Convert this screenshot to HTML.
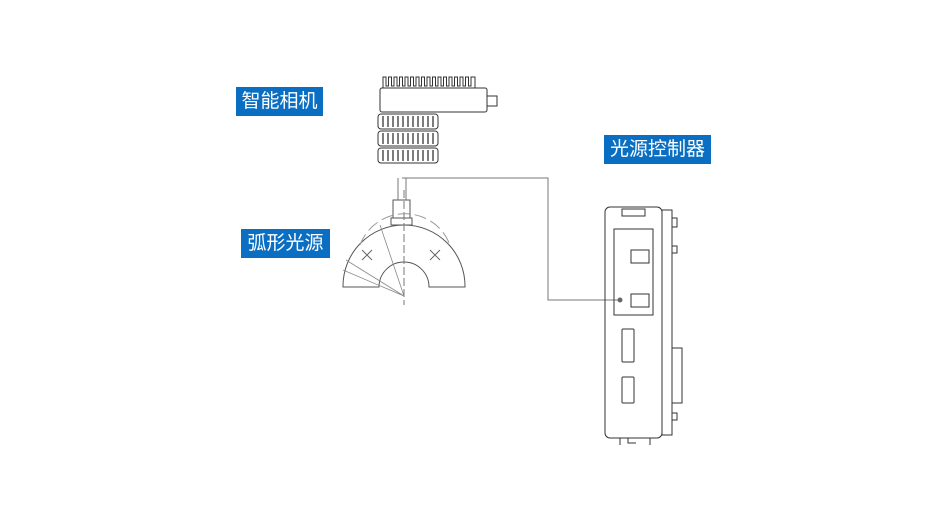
<!DOCTYPE html>
<html><head><meta charset="utf-8"><style>
body{margin:0;background:#fff;width:951px;height:520px;overflow:hidden;position:relative;font-family:"Liberation Sans","Noto Sans CJK SC",sans-serif}
.l{position:absolute;background:#0a6fc2;color:#fff;font-size:19px;line-height:29px;text-align:center}
</style></head><body>
<svg width="951" height="520" style="position:absolute;left:0;top:0" fill="none" stroke="#333" stroke-width="1">
<!-- camera -->
<rect x="380" y="88" width="107" height="24" rx="2"/>
<path d="M383 88 V77 h3 v9 h2.5 v-9 h3 v9 h2.5 v-9 h3 v9 h2.5 v-9 h3 v9 h2.5 v-9 h3 v9 h2.5 v-9 h3 v9 h2.5 v-9 h3 v9 h2.5 v-9 h3 v9 h2.5 v-9 h3 v9 h2.5 v-9 h3 v9 h2.5 v-9 h3 v9 h2.5 v-9 h3 v9 h2.5 v-9 h3 v9 h2.5 v-9 h3 v9 h2.5 v-9 h3 v9 h2.5 v-9 h3 v9 h2.5 v-9 h4 v11"/>
<rect x="487" y="96" width="10" height="10"/>
<rect x="378" y="114" width="60" height="15" rx="3"/>
<rect x="378" y="131" width="60" height="15" rx="3"/>
<rect x="378" y="148" width="60" height="15" rx="3"/>
<g stroke="#444" stroke-width="1.4">
<path d="M383 116v11M388 116v11M393 116v11M398 116v11M403 116v11M408 116v11M413 116v11M418 116v11M423 116v11M428 116v11M433 116v11"/>
<path d="M383 133v11M388 133v11M393 133v11M398 133v11M403 133v11M408 133v11M413 133v11M418 133v11M423 133v11M428 133v11M433 133v11"/>
<path d="M383 150v11M388 150v11M393 150v11M398 150v11M403 150v11M408 150v11M413 150v11M418 150v11M423 150v11M428 150v11M433 150v11"/>
</g>
<!-- arc light -->
<path d="M343 287 V286 A61 61 0 0 1 465 286 V287 H429 A25 25 0 0 0 379 287 Z" stroke="#555"/>
<rect x="393" y="200" width="17" height="18" stroke="#555"/>
<rect x="391" y="218" width="21" height="7" stroke="#555"/>
<path d="M398 178v22M406 178v22" stroke="#777"/>
<path d="M404 190V305" stroke="#777" stroke-dasharray="8 3"/>
<path d="M360 245 A48 48 0 0 1 450 245" stroke="#999" stroke-dasharray="12 5"/>
<path d="M362 250l10 10M372 250l-10 10M430 250l10 10M440 250l-10 10" stroke="#666"/>
<path d="M380 225 L404 296 M343 270 L404 296 M346 260 L404 296" stroke="#888" stroke-width="0.8"/>
<!-- connector line -->
<path d="M402 178H548V300H620" stroke="#777"/>
<circle cx="620" cy="300" r="2.5" fill="#666" stroke="none"/>
<!-- controller -->
<rect x="605" y="207" width="57" height="231" rx="5"/>
<rect x="662" y="210" width="10" height="225"/>
<rect x="622" y="209" width="23" height="7"/>
<rect x="614" y="229" width="39" height="86"/>
<rect x="631" y="250" width="18" height="13"/>
<rect x="631" y="294" width="18" height="13"/>
<rect x="622" y="329" width="12" height="33" rx="1"/>
<rect x="622" y="377" width="12" height="26" rx="1"/>
<rect x="672" y="348" width="10" height="55"/>
<path d="M672 218h5v9h-5M672 246h5v7h-5M672 413h5v7h-5"/>
<path d="M620 438v7M628 438v5h8M650 438v7"/>
</svg>
<div class="l" style="left:236px;top:87px;width:87px">智能相机</div>
<div class="l" style="left:604px;top:135px;width:107px">光源控制器</div>
<div class="l" style="left:241px;top:229px;width:89px">弧形光源</div>
</body></html>
